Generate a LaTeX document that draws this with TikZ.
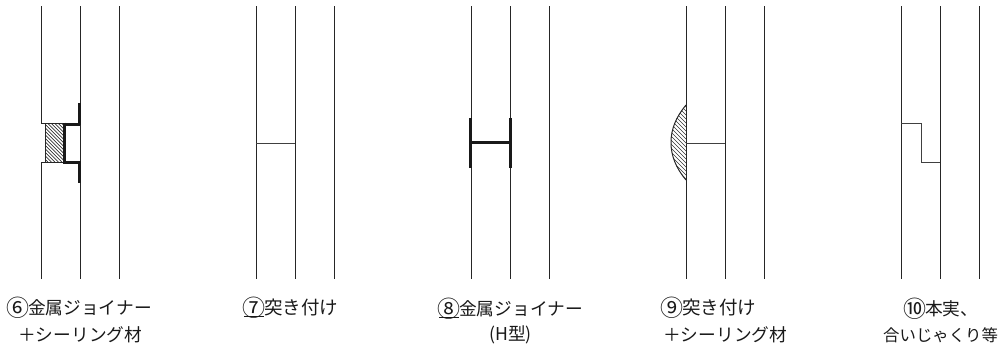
\documentclass[tikz,border=0pt]{standalone}
\usepackage{fontspec}
\setmainfont{Noto Sans CJK JP}
\tikzset{
  wall/.style={line width=1pt,draw=black!85},
  joint/.style={line width=0.8pt,draw=black!75},
  metal/.style={line width=3pt,draw=black!90,line cap=butt},
  hatchline/.style={line width=0.7pt,draw=black!80},
  hatchthin/.style={line width=0.6pt,draw=black!80},
  captext/.style={anchor=west,inner sep=0pt,font=\fontsize{17.7pt}{18pt}\selectfont,text=black!90},
  captextc/.style={captext,anchor=center},
  captextw/.style={captext,font=\fontsize{18.5pt}{18.5pt}\selectfont},
  captextn/.style={captext,font=\fontsize{16.4pt}{16.4pt}\selectfont}
}
\newcommand{\circnum}[1]{\makebox[20pt][c]{\raisebox{-2pt}{\fontsize{23pt}{23pt}\selectfont #1}}}
\begin{document}
\begin{tikzpicture}[x=1pt,y=-1pt]
\useasboundingbox (0,0) rectangle (1000,349);
% panel 6
\begin{scope}
  \clip (45,123) rectangle (64,162);
  \foreach \k in {-40,-36.5,...,70}{\draw[hatchline] (\k,123) -- (\k+39,162);}
\end{scope}
\draw[wall] (41,6) -- (41,123) -- (64,123);
\draw[wall] (41,279) -- (41,162) -- (64,162);
\draw[wall] (45,123) -- (45,162);
\draw[wall] (80,6) -- (80,279);
\draw[wall] (119,6) -- (119,279);
\draw[metal] (64.7,124) -- (80,124);
\draw[metal] (64.7,162) -- (80,162);
\draw[metal] (64.7,122.5) -- (64.7,163.5);
\draw[metal] (79,103) -- (79,125);
\draw[metal] (79,161) -- (79,183);
% panel 7
\foreach \x in {256,295,334}{\draw[wall] (\x,6) -- (\x,279);}
\draw[joint] (256,143) -- (295,143);
% panel 8
\foreach \x in {471,510,549}{\draw[wall] (\x,6) -- (\x,279);}
\draw[metal] (470.5,118) -- (470.5,167.5);
\draw[metal] (510.5,118) -- (510.5,167.5);
\draw[metal] (470.5,142.5) -- (510.5,142.5);
% panel 9
\begin{scope}
  \clip (686,105) .. controls (676,117) and (671,129) .. (671,142.5) .. controls (671,156) and (676,168) .. (686,180) -- cycle;
  \foreach \k in {560,564,...,700}{\draw[hatchthin] (\k,105) -- (\k+75,180);}
\end{scope}
\draw[wall] (686,105) .. controls (676,117) and (671,129) .. (671,142.5) .. controls (671,156) and (676,168) .. (686,180);
\foreach \x in {686,725,764}{\draw[wall] (\x,6) -- (\x,279);}
\draw[joint] (686,143) -- (725,143);
% panel 10
\foreach \x in {901,940,979}{\draw[wall] (\x,6) -- (\x,279);}
\draw[joint] (901,123) -- (921,123) -- (921,162) -- (940,162);
% captions
\node[captext] (c6a) at (8,308) {\circnum{⑥}金属ジョイナー};
\node[captext] (c6b) at (18,335) {＋シーリング材};
\node[captextw] (c7) at (244,308) {\underline{\smash{\circnum{⑦}}}突き付け};
\node[captext] (c8a) at (439,309) {\underline{\smash{\circnum{⑧}}}金属ジョイナー};
\node[captextc] (c8b) at (510.5,335) {(H型)};
\node[captextw] (c9a) at (662,308) {\circnum{⑨}突き付け};
\node[captext] (c9b) at (663,335) {＋シーリング材};
\node[captext] (c10a) at (905,309) {\circnum{⑩}本実、};
\node[captextn] (c10b) at (883,335) {合いじゃくり等};
\end{tikzpicture}
\end{document}
